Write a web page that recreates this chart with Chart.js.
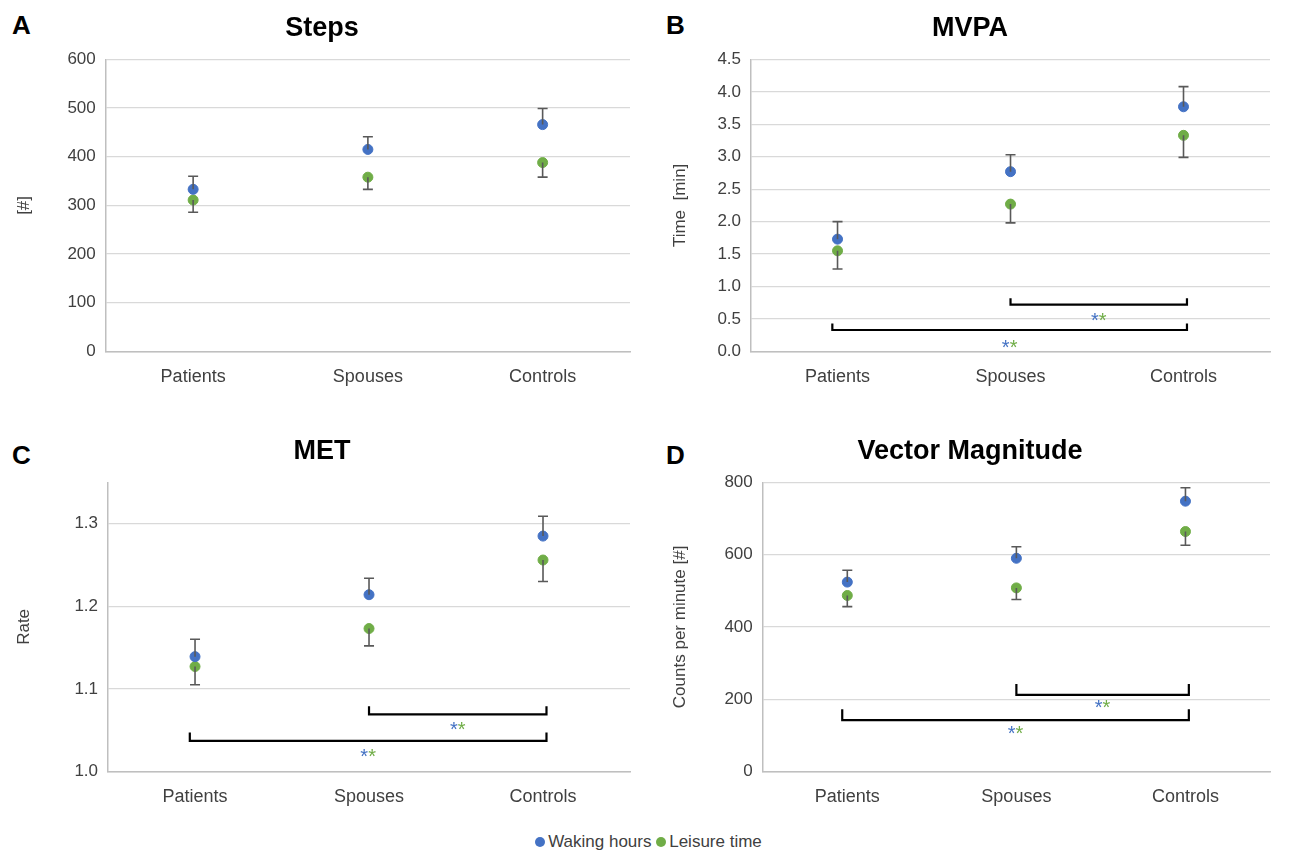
<!DOCTYPE html>
<html><head><meta charset="utf-8">
<script src="https://cdn.jsdelivr.net/npm/chart.js@4.4.0/dist/chart.umd.min.js"></script>
<style>
body{margin:0;background:#fff;font-family:"Liberation Sans",Arial,sans-serif;width:1297px;height:854px;position:relative;overflow:hidden}
.p{position:absolute}
.lt{position:absolute;font-weight:bold;font-size:26px;color:#000}
#leg{position:absolute;top:832px;left:0;width:1297px;text-align:center;font-size:17px;color:#404040}
.dot{display:inline-block;width:10px;height:10px;border-radius:50%;margin-right:3px;vertical-align:0}
</style></head><body>
<div class="lt" style="left:12px;top:10px">A</div>
<div class="lt" style="left:666px;top:10px">B</div>
<div class="lt" style="left:12px;top:440px">C</div>
<div class="lt" style="left:666px;top:440px">D</div>
<div class="p" style="left:0;top:0;width:645px;height:405px"><canvas id="cA"></canvas></div>
<div class="p" style="left:650px;top:0;width:635px;height:405px"><canvas id="cB"></canvas></div>
<div class="p" style="left:0;top:423px;width:645px;height:405px"><canvas id="cC"></canvas></div>
<div class="p" style="left:650px;top:423px;width:635px;height:405px"><canvas id="cD"></canvas></div>
<div id="leg"><span class="dot" style="background:#4472C4"></span>Waking hours <span class="dot" style="background:#70AD47"></span>Leisure time</div>
<script>
const categories=["Patients","Spouses","Controls"];
const seriesNames=["Waking hours","Leisure time"];
// Steps
const stepsWaking=[333,415,466], stepsWakingErr=[27,26,33];
const stepsLeisure=[311,358,388], stepsLeisureErr=[25,25,30];
// MVPA
const mvpaWaking=[1.73,2.77,3.77], mvpaWakingErr=[0.27,0.26,0.31];
const mvpaLeisure=[1.55,2.27,3.33], mvpaLeisureErr=[0.28,0.29,0.34];
// MET
const metWaking=[1.139,1.214,1.285], metWakingErr=[0.021,0.020,0.024];
const metLeisure=[1.127,1.173,1.256], metLeisureErr=[0.022,0.021,0.026];
// Vector magnitude
const vmWaking=[524,590,748], vmWakingErr=[33,32,37];
const vmLeisure=[487,508,664], vmLeisureErr=[31,32,38];
// significance brackets: [fromCat, toCat, lineY, tickY, starY]
const mvpaBrackets=[[-0.03,2.02,0.33,0.43,0.11],[1.0,2.02,0.72,0.82,0.52]];
const metBrackets=[[-0.03,2.02,1.037,1.047,1.022],[1.0,2.02,1.069,1.079,1.055]];
const vmBrackets=[[-0.03,2.02,142,172,112],[1.0,2.02,212,242,186]];

const BLUE='#4472C4',GREEN='#70AD47';
const errPlugin={id:'err',afterDatasetsDraw(ch){
  const c=ch.ctx,ys=ch.scales.y,xs=ch.scales.x,o=ch.options.plugins.err;
  c.save();c.strokeStyle='#595959';c.lineWidth=1.6;
  ch.data.datasets.forEach((ds,i)=>{const dir=i===0?1:-1;
    ds.data.forEach((v,j)=>{const e=o.errs[i][j];const x=xs.getPixelForValue(j);
      const y0=ys.getPixelForValue(v),y1=ys.getPixelForValue(v+dir*e);
      c.beginPath();c.moveTo(x,y0);c.lineTo(x,y1);c.moveTo(x-5,y1);c.lineTo(x+5,y1);c.stroke();});});
  c.restore();
  c.save();c.strokeStyle='#000';c.lineWidth=2.2;
  (o.brackets||[]).forEach(b=>{
    const step=xs.getPixelForValue(1)-xs.getPixelForValue(0);
    const x0=xs.getPixelForValue(0)+b[0]*step,x1=xs.getPixelForValue(0)+b[1]*step;
    const y=ys.getPixelForValue(b[2]),yt=ys.getPixelForValue(b[3]);
    c.beginPath();c.moveTo(x0,yt);c.lineTo(x0,y);c.lineTo(x1,y);c.lineTo(x1,yt);c.stroke();
    const xm=(x0+x1)/2,ym=ys.getPixelForValue(b[4]);
    c.font='20px "Liberation Sans",Arial';c.textBaseline='middle';
    c.fillStyle=BLUE;c.textAlign='right';c.fillText('*',xm,ym+4);
    c.fillStyle=GREEN;c.textAlign='left';c.fillText('*',xm,ym+4);
  });
  c.restore();
}};
function mk(id,title,ytitle,w,l,we,le,min,max,step,dec,brackets,pad,tp){
  new Chart(document.getElementById(id),{type:'line',
    data:{labels:categories,datasets:[
      {label:seriesNames[0],data:w,showLine:false,pointRadius:5,pointHoverRadius:5,backgroundColor:BLUE,borderColor:BLUE},
      {label:seriesNames[1],data:l,showLine:false,pointRadius:5,pointHoverRadius:5,backgroundColor:GREEN,borderColor:GREEN}]},
    options:{responsive:true,maintainAspectRatio:false,animation:false,
      layout:{padding:pad},
      plugins:{legend:{display:false},tooltip:{enabled:false},
        title:{display:true,text:title,color:'#000',font:{size:27,weight:'bold',family:'"Liberation Sans",Arial'},padding:{top:12,bottom:15}},
        err:{errs:[we,le],brackets:brackets}},
      scales:{
        x:{offset:true,grid:{display:false,drawTicks:false},border:{color:'#bfbfbf',width:1.5},
           ticks:{color:'#404040',font:{size:18,family:'"Liberation Sans",Arial'},padding:15}},
        y:{min:min,max:max,grid:{color:'#d9d9d9',lineWidth:1.3,drawTicks:false},border:{color:'#bfbfbf',width:1.5},
           afterBuildTicks:ax=>{ax.ticks=ax.ticks.filter(t=>Math.abs(t.value/step-Math.round(t.value/step))<1e-6);},
           title:{display:true,text:ytitle,color:'#404040',font:{size:17,family:'"Liberation Sans",Arial'},padding:{top:0,bottom:tp}},
           ticks:{stepSize:step,color:'#404040',font:{size:17,family:'"Liberation Sans",Arial'},padding:10,
             callback:v=>dec?Number(v).toFixed(dec):v}}}},
    plugins:[errPlugin]});
}
mk('cA','Steps','[#]',stepsWaking,stepsLeisure,stepsWakingErr,stepsLeisureErr,0,600,100,0,[],{left:14,right:15,top:0,bottom:2},23);
mk('cB','MVPA','Time  [min]',mvpaWaking,mvpaLeisure,mvpaWakingErr,mvpaLeisureErr,0,4.5,0.5,1,mvpaBrackets,{left:20,right:15,top:0,bottom:2},17);
mk('cC','MET','Rate',metWaking,metLeisure,metWakingErr,metLeisureErr,1.0,1.35,0.1,1,metBrackets,{left:14,right:15,top:0,bottom:5},30);
mk('cD','Vector Magnitude','Counts per minute [#]',vmWaking,vmLeisure,vmWakingErr,vmLeisureErr,0,800,200,0,vmBrackets,{left:20,right:15,top:0,bottom:5},24);
</script></body></html>
